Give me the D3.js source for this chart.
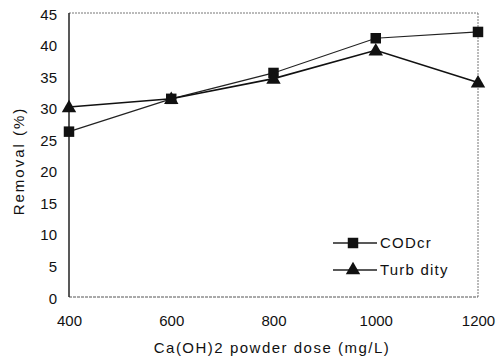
<!DOCTYPE html>
<html><head><meta charset="utf-8">
<script src="https://cdn.jsdelivr.net/npm/d3@7"></script>
<style>body{margin:0;background:#fff}svg text{font-family:"Liberation Sans",Arial,sans-serif;fill:#111}</style>
</head><body><svg id="c" width="501" height="357"></svg>
<script>
const doses = [400, 600, 800, 1000, 1200];
const codcr = [26.2, 31.4, 35.5, 41.0, 42.0];
const turbidity = [30.1, 31.4, 34.6, 39.1, 34.0];
const yTicks = [0, 5, 10, 15, 20, 25, 30, 35, 40, 45];
const seriesNames = ["CODcr", "Turb dity"];

const svg = d3.select("#c");
const L = 69, R = 478, T = 13, B = 297;
const x = d3.scaleLinear().domain([400, 1200]).range([L, R]);
const y = d3.scaleLinear().domain([0, 45]).range([B, T]);

// frame
svg.append("line").attr("x1", L).attr("x2", R).attr("y1", T).attr("y2", T).attr("stroke", "#777").attr("stroke-dasharray", "2,1");
svg.append("line").attr("x1", R).attr("x2", R).attr("y1", T).attr("y2", B).attr("stroke", "#777").attr("stroke-dasharray", "2,1");
svg.append("line").attr("x1", L).attr("x2", R).attr("y1", B).attr("y2", B).attr("stroke", "#555").attr("stroke-dasharray", "3,1");
svg.append("line").attr("x1", L).attr("x2", L).attr("y1", T).attr("y2", B).attr("stroke", "#222").attr("stroke-width", 1.5);

// axes
const yAxis = d3.axisLeft(y).tickValues(yTicks).tickSize(0).tickPadding(12);
const gy = svg.append("g").attr("transform", `translate(${L},0)`).call(yAxis);
gy.select(".domain").remove();
gy.selectAll("text").attr("font-size", 15).attr("dy", "0.4em");
const xAxis = d3.axisBottom(x).tickValues(doses).tickFormat(d3.format("d")).tickSize(0).tickPadding(18);
const gx = svg.append("g").attr("transform", `translate(0,${B})`).call(xAxis);
gx.select(".domain").remove();
gx.selectAll("text").attr("font-size", 15);

svg.append("text").attr("x", 272).attr("y", 353).attr("text-anchor", "middle").attr("font-size", 15).attr("letter-spacing", 1.5).text("Ca(OH)2 powder dose (mg/L)");
svg.append("text").attr("transform", "translate(24,161) rotate(-90)").attr("text-anchor", "middle").attr("font-size", 15).attr("letter-spacing", 2).text("Removal (%)");

const line = d3.line().x((d, i) => x(doses[i])).y(d => y(d));
const sq = d3.symbol().type(d3.symbolSquare).size(110);
const tri = d3.symbol().type(d3.symbolTriangle).size(90);

svg.append("path").attr("d", line(codcr)).attr("fill", "none").attr("stroke", "#222").attr("stroke-width", 1.2);
svg.append("path").attr("d", line(turbidity)).attr("fill", "none").attr("stroke", "#111").attr("stroke-width", 1.6);
svg.selectAll(".sq").data(codcr).enter().append("path").attr("d", sq).attr("fill", "#111")
  .attr("transform", (d, i) => `translate(${x(doses[i])},${y(d)})`);
svg.selectAll(".tri").data(turbidity).enter().append("path").attr("d", tri).attr("fill", "#111")
  .attr("transform", (d, i) => `translate(${x(doses[i])},${y(d) + 1})`);

// legend
const lg = [{n: seriesNames[0], s: sq, yy: 243}, {n: seriesNames[1], s: tri, yy: 270}];
lg.forEach(o => {
  svg.append("line").attr("x1", 333).attr("x2", 377).attr("y1", o.yy).attr("y2", o.yy).attr("stroke", "#222").attr("stroke-width", 1.3);
  svg.append("path").attr("d", o.s).attr("fill", "#111").attr("transform", `translate(353,${o.yy})`);
  svg.append("text").attr("x", 380).attr("y", o.yy + 5).attr("font-size", 15).attr("letter-spacing", 1.2).text(o.n);
});
</script></body></html>
